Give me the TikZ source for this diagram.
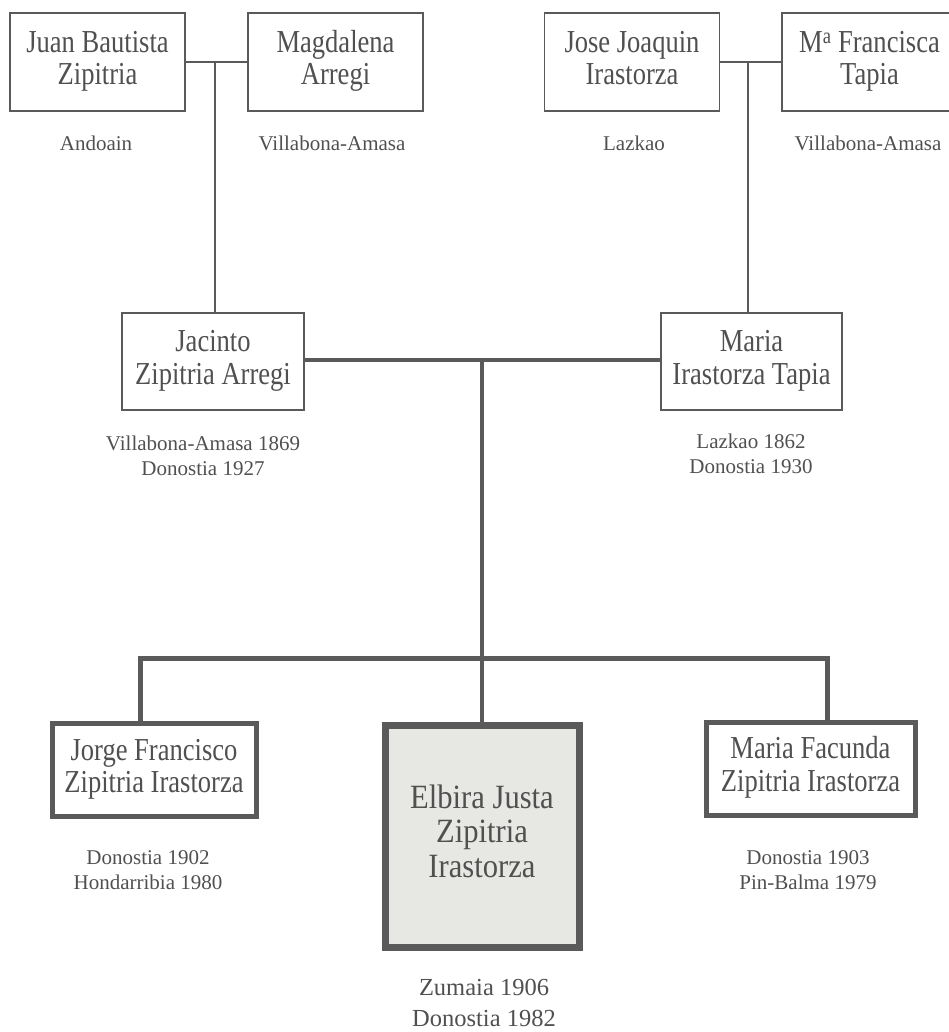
\documentclass[tikz,border=0pt]{standalone}
\usepackage{graphicx}
\usepackage{fontspec}
\setmainfont{Liberation Serif}
\definecolor{ink}{HTML}{505050}
\definecolor{linec}{HTML}{5A5A5A}
\definecolor{boxfill}{HTML}{E7E8E4}
\newcommand{\nmtext}[1]{\scalebox{0.83}[1]{\begin{tabular}{@{}c@{}}#1\end{tabular}}}
\newcommand{\bigtext}[1]{\scalebox{0.9}[1]{\begin{tabular}{@{}c@{}}#1\end{tabular}}}
\begin{document}
\begin{tikzpicture}[x=1pt,y=-1pt,
  person/.style={draw=linec, text=ink, inner sep=0pt,
    font=\fontsize{32}{32.5}\selectfont},
  gen1/.style={person, line width=1.5pt, minimum width=175pt, minimum height=98pt},
  gen2/.style={person, line width=2pt, minimum width=182pt, minimum height=97pt},
  gen3/.style={person, line width=5pt, minimum width=204pt, minimum height=93pt},
  mainbox/.style={person, line width=7pt, fill=boxfill, minimum width=194pt, minimum height=222pt,
    font=\fontsize{34}{34.5}\selectfont},
  place/.style={text=ink, align=center, inner sep=0pt, font=\fontsize{21}{25}\selectfont},
  bigplace/.style={text=ink, align=center, inner sep=0pt, font=\fontsize{24.5}{31}\selectfont},
  thin/.style={draw=linec, line width=1.5pt},
  mid/.style={draw=linec, line width=4pt},
  thick/.style={draw=linec, line width=5pt}
]
\useasboundingbox (0,0) rectangle (949,1032);
% generation 1
\node[gen1] (juan) at (97.5,62) {\nmtext{Juan Bautista\\Zipitria}};
\node[gen1] (magda) at (335.5,62) {\nmtext{Magdalena\\Arregi}};
\node[gen1] (jose) at (632,62) {\nmtext{Jose Joaquin\\Irastorza}};
\node[gen1] (franc) at (869.5,62) {\nmtext{M\textsuperscript{a} Francisca\\Tapia}};
\node[place] (pjuan) at (96,143) {Andoain};
\node[place] (pmagda) at (332,143) {Villabona-Amasa};
\node[place] (pjose) at (634,143) {Lazkao};
\node[place] (pfranc) at (868,143) {Villabona-Amasa};
% generation 2
\node[gen2] (jac) at (213,361.5) {\nmtext{Jacinto\\Zipitria Arregi}};
\node[gen2, minimum width=181pt] (mar) at (751.5,361.5) {\nmtext{Maria\\Irastorza Tapia}};
\node[place] (pjac) at (203,456) {Villabona-Amasa 1869\\Donostia 1927};
\node[place] (pmar) at (751,454) {Lazkao 1862\\Donostia 1930};
% generation 3
\node[gen3] (jorge) at (154,770) {\nmtext{Jorge Francisco\\Zipitria Irastorza}};
\node[gen3, minimum width=209pt] (facu) at (810.5,768.5) {\nmtext{Maria Facunda\\Zipitria Irastorza}};
\node[mainbox] (elb) at (482,836) {\bigtext{Elbira Justa\\Zipitria\\Irastorza}};
\node[place] (pjorge) at (148,870) {Donostia 1902\\Hondarribia 1980};
\node[place] (pfacu) at (808,870) {Donostia 1903\\Pin-Balma 1979};
\node[bigplace] (pelb) at (484,1003) {Zumaia 1906\\Donostia 1982};
% connectors
\coordinate (c1) at (215,62);
\coordinate (c2) at (748,62);
\draw[thin] (juan.east) -- (magda.west);
\draw[thin] (jose.east) -- (franc.west);
\draw[thin] (c1) -- (c1 |- jac.north);
\draw[thin] (c2) -- (c2 |- mar.north);
\coordinate (c3) at (482,360);
\draw[mid] (jac.east |- c3) -- (mar.west |- c3);
\draw[mid] (c3) -- (elb.north);
\coordinate (cl) at (140,658);
\coordinate (cr) at (827,658);
\draw[thick] (cl |- jorge.north) -- (cl) -- (cr) -- (cr |- facu.north);
\end{tikzpicture}
\end{document}
